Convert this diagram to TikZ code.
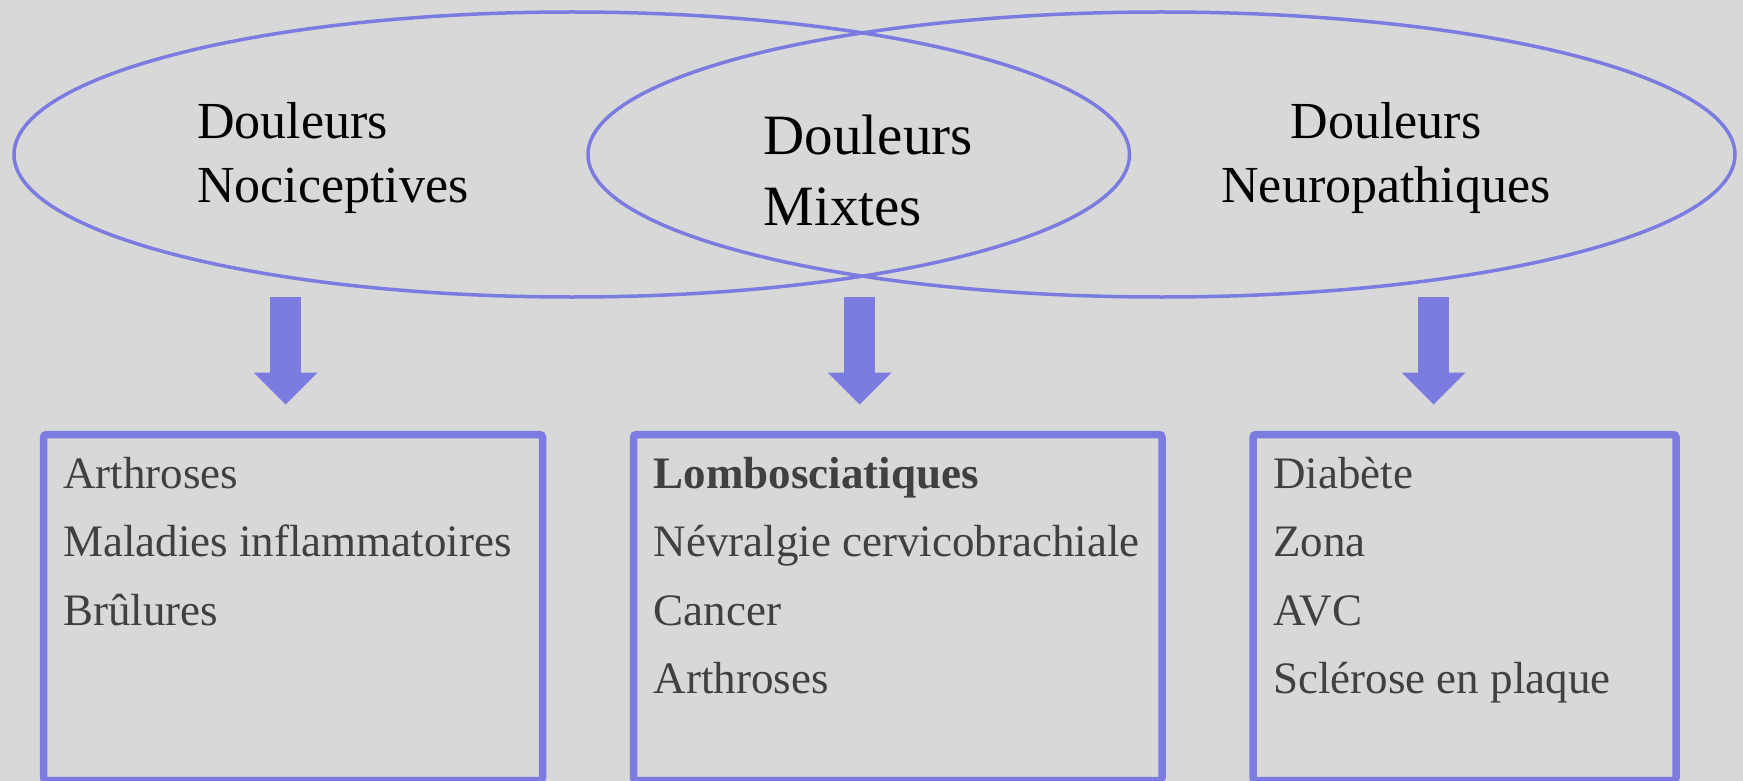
\documentclass[tikz,border=0pt]{standalone}
\usepackage{fontspec}
\setmainfont{Liberation Serif}
\usetikzlibrary{shapes.geometric,arrows.meta,positioning}
\definecolor{venn}{RGB}{123,123,224}
\definecolor{backgray}{RGB}{216,216,216}
\definecolor{itemgray}{RGB}{64,64,64}
\tikzstyle{ring}=[
    draw = venn,
    line width = 3.5pt,
    ellipse,
    inner sep = 0pt,
    outer sep = 0pt
]
\tikzstyle{listbox}=[
    draw = venn,
    line width = 7.5pt,
    rounded corners = 3pt,
    inner sep = 0pt,
    outer sep = 0pt
]
\tikzstyle{bigarrow}=[
    draw = venn,
    line width = 31.5pt,
    -{Triangle[width=64pt, length=32pt, line width=0pt]},
    shorten >= 30pt
]

\begin{document}
\begin{tikzpicture}[x=1pt, y=-1pt,
    head/.style = {font=\fontsize{52}{64}\selectfont, inner sep=0pt},
    items/.style = {font=\fontsize{45}{68.5}\selectfont, text=itemgray, align=left, inner sep=0pt, anchor=base west}]
        \useasboundingbox (0,0) rectangle (1743,781);
        \fill[backgray] (0,0) rectangle (1743,781);

        % the two overlapping rings
        \node[ring, minimum width=1115.5pt, minimum height=285pt] (nociring) at (571.75,154.5) {};
        \node[ring, minimum width=1147pt, minimum height=285pt] (neuroring) at (1161.5,154.5) {};

        % base of a two-line node = base of its last line
        \node[head, align=left, anchor=base west] (nocititle) at (197,202) {Douleurs\\Nociceptives};
        \node[head, font=\fontsize{57}{71}\selectfont, align=left, anchor=base west] (mixtitle) at (763.5,225) {Douleurs\\Mixtes};
        \node[head, align=center, anchor=base] (neurotitle) at (1386,202) {Douleurs\\Neuropathiques};

        % the three lists
        \node[listbox, minimum width=499pt, minimum height=346pt] (nocibox) at (293,607.5) {};
        \node[listbox, minimum width=528.5pt, minimum height=346pt] (mixbox) at (897.75,607.5) {};
        \node[listbox, minimum width=423pt, minimum height=346pt] (neurobox) at (1464.5,607.5) {};

        \node[items] (nocilist) at (63,625) {Arthroses\\Maladies inflammatoires\\Brûlures};
        \node[items] (mixlist) at (653.6,693.5) {\textbf{Lombosciatiques}\\Névralgie cervicobrachiale\\Cancer\\Arthroses};
        \node[items] (neurolist) at (1273,693.5) {Diabète\\Zona\\AVC\\Sclérose en plaque};

        \coordinate (nocistart) at (285.5,297);
        \coordinate (mixstart) at (859.5,297);
        \coordinate (neurostart) at (1433.5,297);

        \draw[bigarrow] (nocistart) -- (nocistart |- nocibox.north);
        \draw[bigarrow] (mixstart) -- (mixstart |- mixbox.north);
        \draw[bigarrow] (neurostart) -- (neurostart |- neurobox.north);

    \end{tikzpicture}
\end{document}
